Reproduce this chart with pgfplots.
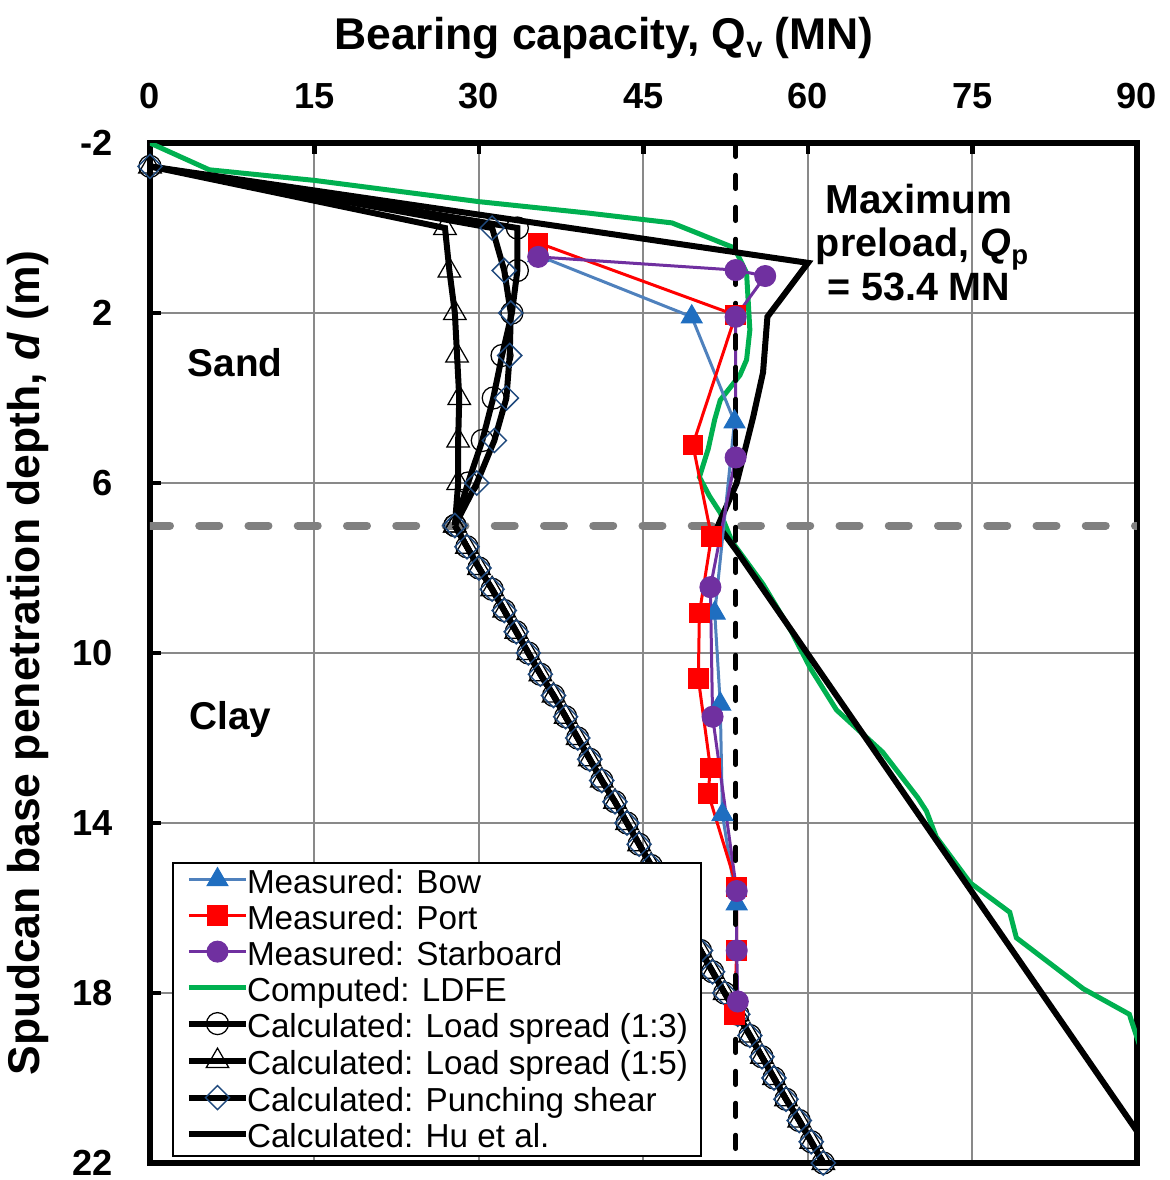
\documentclass[border=0pt]{standalone}
\usepackage{fontspec}
\setmainfont{Liberation Sans}
\usepackage{pgfplots}
\pgfplotsset{compat=1.18}
\definecolor{bowline}{RGB}{79,129,189}
\definecolor{bowmark}{RGB}{31,110,192}
\definecolor{portred}{RGB}{255,0,0}
\definecolor{stbd}{RGB}{112,48,160}
\definecolor{ldfe}{RGB}{0,176,80}
\definecolor{dmd}{RGB}{31,73,125}
\definecolor{gridc}{RGB}{137,137,137}
\definecolor{sepgrey}{RGB}{128,128,128}
\newcommand{\lstrut}{\rule[-4.3pt]{0pt}{14.4pt}}

\pgfplotstableread{
X d
27.8 7.0
28.9 7.5
30.0 8.0
31.2 8.5
32.3 9.0
33.4 9.5
34.5 10.0
35.6 10.5
36.8 11.0
37.9 11.5
39.0 12.0
40.1 12.5
41.2 13.0
42.4 13.5
43.5 14.0
44.6 14.5
45.7 15.0
46.8 15.5
48.0 16.0
49.1 16.5
50.2 17.0
51.3 17.5
52.4 18.0
53.6 18.5
54.7 19.0
55.8 19.5
56.9 20.0
58.0 20.5
59.2 21.0
60.3 21.5
61.4 22.0
}\clay

\begin{document}
\begin{tikzpicture}
\useasboundingbox (-60pt,-6.8pt) rectangle (408pt,465.2pt);
\begin{axis}[
  at={(0,0)}, anchor=south west,
  scale only axis, width=394.8pt, height=408pt,
  xmin=0, xmax=90, ymin=-2, ymax=22, y dir=reverse,
  xtick={0,15,30,45,60,75,90}, xticklabels={0,15,30,45,60,75,90},
  ytick={-2,2,6,10,14,18,22}, yticklabels={-2,2,6,10,14,18,22},
  xtick pos=upper, xticklabel pos=upper, ytick pos=left,
  tick align=inside, major tick length=4.5pt,
  every tick/.style={black, line width=1.9pt},
  xmajorgrids, ymajorgrids,
  major grid style={gridc, line width=0.8pt},
  axis line style={black, line width=2.2pt},
  ticklabel style={font=\fontsize{14.5}{15}\selectfont\bfseries},
  xticklabel style={anchor=base, yshift=14pt, inner sep=0pt},
  yticklabel style={anchor=east, xshift=-14.8pt, inner sep=0pt},
  legend style={at={(axis description cs:0.0223,0.295)}, anchor=north west,
    draw=black, line width=0.8pt, fill=white,
    font=\fontsize{13.3}{14.4}\selectfont, inner xsep=5.2pt, inner ysep=1.8pt, row sep=2.8pt,
    nodes={inner xsep=0pt, inner ysep=0pt},
    /tikz/every odd column/.append style={column sep=-0.8pt}},
  legend cell align=left,
  legend image code/.code={\draw[yshift=1.2pt,mark repeat=2,mark phase=2,#1] plot coordinates {(0pt,0pt) (11.4pt,0pt) (22.8pt,0pt)};},
]
% separators
\addplot[forget plot, sepgrey, line width=3.2pt, line cap=round, dash pattern=on 8pt off 11.7pt] coordinates {(0,7) (90,7)};
% LDFE
\addplot[forget plot, ldfe, line width=2pt] coordinates {
(0,-2) (5.4,-1.37) (15,-1.12) (30,-0.62) (40,-0.35) (47.6,-0.12) (53.3,0.47) (54.4,1.06)
(54.7,2.4) (54.4,3.1) (53.8,3.46) (52.0,4.05) (51.5,4.5) (50.9,5.2) (50.1,5.86) (51.0,6.3)
(52.0,6.7) (53.1,7.39) (55.9,8.38) (58.5,9.5) (60.2,10.35) (62.6,11.34) (66.8,12.33)
(70.0,13.4) (70.8,13.72) (71.7,14.33) (74.8,15.41) (78.4,16.1) (79.0,16.7) (85.1,17.9)
(89.3,18.5) (90.2,19.2)};
% Load spread 1:3
\addplot[forget plot, black, line width=2.4pt, mark=o, mark size=4.4pt, mark options={solid, line width=0.5pt}] coordinates {
(0,-1.45) (33.5,0) (33.5,1) (33.0,2) (32.1,3) (31.3,4) (30.3,5) (29.0,6) (27.8,7)};
\addplot[forget plot, black, line width=2.4pt, mark=o, mark size=4.4pt, mark options={solid, line width=0.5pt}] table[x=X,y=d] {\clay};
% Load spread 1:5
\addplot[forget plot, black, line width=2.4pt, mark=triangle, mark size=5.2pt, mark options={solid, line width=0.5pt}] coordinates {
(0,-1.45) (26.9,0) (27.3,1) (27.8,2) (28.0,3) (28.2,4) (28.1,5) (28.1,6) (27.8,7)};
\addplot[forget plot, black, line width=2.4pt, mark=triangle, mark size=5.2pt, mark options={solid, line width=0.5pt}] table[x=X,y=d] {\clay};
% Punching shear
\addplot[forget plot, black, line width=2.4pt, mark=square, mark size=3.4pt, mark options={solid, rotate=45, draw=dmd, line width=0.6pt}] coordinates {
(0,-1.45) (31.2,0) (32.3,1) (32.9,2) (32.8,3) (32.5,4) (31.4,5) (29.8,6) (27.8,7)};
\addplot[forget plot, black, line width=2.4pt, mark=square, mark size=3.4pt, mark options={solid, rotate=45, draw=dmd, line width=0.6pt}] table[x=X,y=d] {\clay};
% Hu et al.
\addplot[forget plot, black, line width=2.4pt] coordinates {
(0,-1.45) (60.0,0.82) (56.3,2.09) (55.9,3.4) (55.0,4.45) (53.5,6.0) (51.8,7.0) (53.5,7.6) (90,21.25)};
% Measured
\addplot[forget plot, bowline, line width=1.2pt, mark=triangle*, mark size=4.8pt, mark options={fill=bowmark, draw=bowmark, line width=0.4pt}] coordinates {
(35.4,0.65) (49.4,2.09) (53.3,4.56) (51.5,9.06) (52.0,11.2) (52.2,13.8) (53.5,15.9)};
\addplot[forget plot, portred, line width=1.2pt, mark=square*, mark size=3.9pt, mark options={fill=portred, draw=portred, line width=0.4pt}] coordinates {
(35.4,0.35) (53.4,2.05) (49.5,5.1) (51.2,7.26) (50.1,9.06) (50.0,10.6) (51.1,12.7) (50.9,13.3) (53.5,15.5) (53.5,17.0) (53.3,18.5)};
\addplot[forget plot, stbd, line width=1.2pt, mark=*, mark size=4.2pt, mark options={fill=stbd, draw=stbd, line width=0.4pt}] coordinates {
(35.4,0.68) (53.4,0.99) (56.1,1.13) (53.4,2.09) (53.4,5.4) (51.1,8.45) (51.3,11.5) (53.5,15.6) (53.5,17.0) (53.6,18.2)};
% Preload line
\addplot[forget plot, black, line width=1.8pt, line cap=round, dash pattern=on 5.5pt off 7.3pt] coordinates {(53.4,-2) (53.4,22)};

% annotations
\node[anchor=base west, inner sep=0pt, font=\fontsize{15.5}{16}\selectfont\bfseries] at (axis cs:3.4,3.5) {Sand};
\node[anchor=base west, inner sep=0pt, font=\fontsize{15.5}{16}\selectfont\bfseries] at (axis cs:3.55,11.8) {Clay};
\node[anchor=base, inner sep=0pt, font=\fontsize{16.2}{16}\selectfont\bfseries] at (axis cs:70.1,-0.353) {Maximum};
\node[anchor=base, inner sep=0pt, font=\fontsize{15.8}{16}\selectfont\bfseries] at (axis cs:70.4,0.682) {preload, \textit{Q}\raisebox{-3pt}{\fontsize{11}{11}\selectfont p}};
\node[anchor=base, inner sep=0pt, font=\fontsize{15.8}{16}\selectfont\bfseries] at (axis cs:70.1,1.694) {= 53.4 MN};

% legend
\addlegendimage{bowline, line width=1.2pt, mark=triangle*, mark size=4.8pt, mark options={fill=bowmark, draw=bowmark, line width=0.4pt}}
\addlegendentry{\lstrut Measured: Bow}
\addlegendimage{portred, line width=1.2pt, mark=square*, mark size=3.9pt, mark options={fill=portred, draw=portred, line width=0.4pt}}
\addlegendentry{\lstrut Measured: Port}
\addlegendimage{stbd, line width=1.2pt, mark=*, mark size=4.2pt, mark options={fill=stbd, draw=stbd, line width=0.4pt}}
\addlegendentry{\lstrut Measured: Starboard}
\addlegendimage{ldfe, line width=2pt}
\addlegendentry{\lstrut Computed: LDFE}
\addlegendimage{black, line width=2.4pt, mark=o, mark size=4.4pt, mark options={solid, line width=0.5pt, fill=white}}
\addlegendentry{\lstrut Calculated: Load spread (1:3)}
\addlegendimage{black, line width=2.4pt, mark=triangle, mark size=5.2pt, mark options={solid, line width=0.5pt, fill=white}}
\addlegendentry{\lstrut Calculated: Load spread (1:5)}
\addlegendimage{black, line width=2.4pt, mark=square, mark size=3.4pt, mark options={solid, rotate=45, draw=dmd, line width=0.6pt, fill=white}}
\addlegendentry{\lstrut Calculated: Punching shear}
\addlegendimage{black, line width=2.4pt}
\addlegendentry{\lstrut Calculated: Hu et al.}
\end{axis}
\node[anchor=base, font=\fontsize{17.8}{18}\selectfont\bfseries] at (181.6pt,445.2pt) {Bearing capacity, Q\raisebox{-3.2pt}{\fontsize{11.6}{12}\selectfont v} (MN)};
\node[rotate=90, anchor=center, font=\fontsize{17.8}{18}\selectfont\bfseries] at (-48.8pt,200pt) {Spudcan base penetration depth, \textit{d} (m)};
\end{tikzpicture}
\end{document}
